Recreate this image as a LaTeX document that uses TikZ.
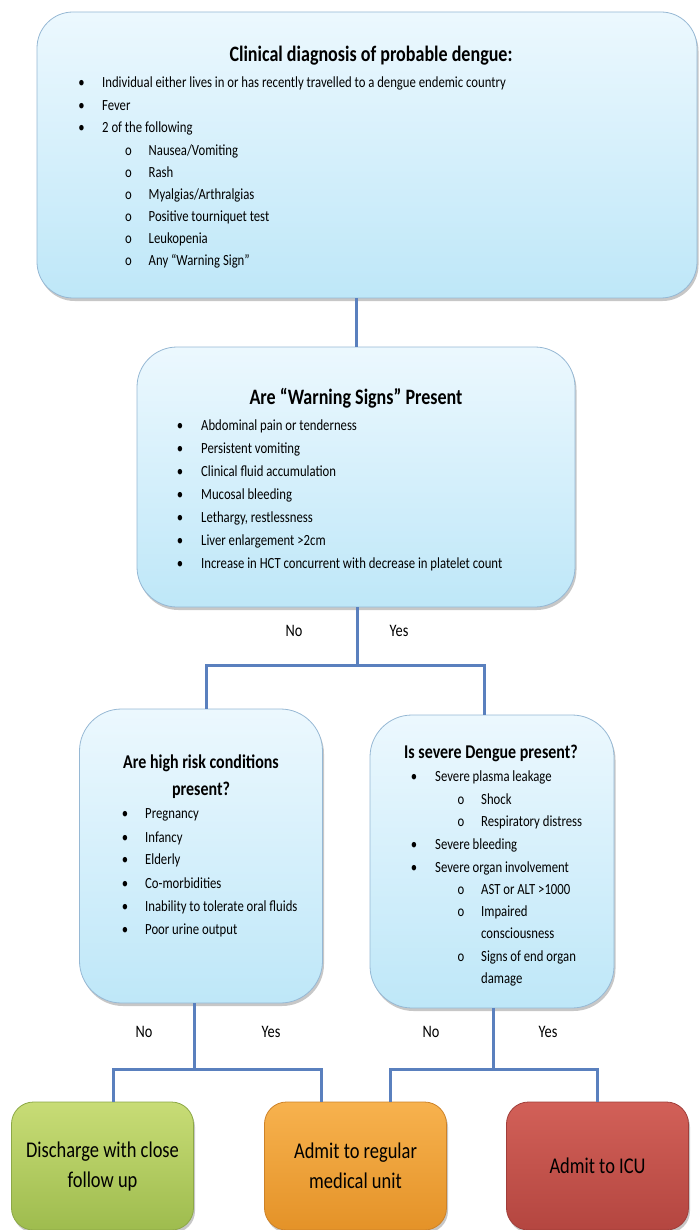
\documentclass[tikz,border=0pt]{standalone}
\usepackage{fontspec}
\setmainfont{Carlito}[FakeStretch=0.82]
\usetikzlibrary{shadows}
\definecolor{connc}{RGB}{90,128,190}
\definecolor{bordc}{RGB}{150,184,212}
\definecolor{btop}{RGB}{236,248,254}
\definecolor{bbot}{RGB}{190,231,248}
\definecolor{gtop}{RGB}{200,220,118}
\definecolor{gbot}{RGB}{158,188,78}
\definecolor{gbrd}{RGB}{140,168,70}
\definecolor{otop}{RGB}{247,178,78}
\definecolor{obot}{RGB}{228,146,40}
\definecolor{obrd}{RGB}{205,130,40}
\definecolor{rtop}{RGB}{210,96,88}
\definecolor{rbot}{RGB}{180,70,64}
\definecolor{rbrd}{RGB}{160,62,58}
\begin{document}
\begin{tikzpicture}[x=1pt,y=-1pt,
  conn/.style={draw=connc, line width=3pt},
  shad/.style={drop shadow={shadow xshift=1.5pt, shadow yshift=-3pt, fill=black, opacity=0.22}},
  bluebox/.style={rectangle, draw=bordc, line width=0.8pt, top color=btop, bottom color=bbot, shad, inner sep=0pt},
  endbox/.style={rectangle, rounded corners=22pt, line width=0.8pt, shad, minimum width=182pt, minimum height=128pt, align=center, font=\fontsize{22.5}{30}\selectfont, text=black},
  ttl/.style={font=\bfseries\fontsize{22}{26}\selectfont, anchor=base, inner sep=0pt},
  sttl/.style={font=\bfseries\fontsize{19.5}{24}\selectfont, anchor=base, inner sep=0pt},
  body/.style={font=\fontsize{15.5}{18}\selectfont, anchor=base west, inner sep=0pt},
  bul/.style={font=\fontsize{15.5}{18}\selectfont, anchor=base, inner sep=0pt},
  lab/.style={font=\fontsize{17.5}{20}\selectfont, anchor=base, inner sep=0pt},
]
\useasboundingbox (0,0) rectangle (699,1230);
% boxes
\node[bluebox, rounded corners=36pt, minimum width=660pt, minimum height=286pt] (b1) at (367,155) {};
\node[bluebox, rounded corners=40pt, minimum width=438pt, minimum height=260pt] (b2) at (356,477) {};
\node[bluebox, rounded corners=42pt, minimum width=243pt, minimum height=294pt] (b3) at (201,856) {};
\node[bluebox, rounded corners=42pt, minimum width=244pt, minimum height=293pt] (b4) at (492,861.5) {};
\node[endbox, draw=gbrd, top color=gtop, bottom color=gbot] (b5) at (102.5,1166) {Discharge with close\\follow up};
\node[endbox, draw=obrd, top color=otop, bottom color=obot] (b6) at (355.5,1166) {Admit to regular\\medical unit};
\node[endbox, draw=rbrd, top color=rtop, bottom color=rbot] (b7) at (597.5,1166) {Admit to ICU};
% junctions
\coordinate (j1) at (357,665);
\coordinate (j2) at (194,1069);
\coordinate (j3) at (493.5,1069);
% connectors
\draw[conn] (b2.north |- b1.south) -- (b2.north);
\draw[conn] (b2.south -| j1) -- (j1);
\draw[conn] ([xshift=5pt]b3.north) |- (j1) -| ([xshift=-8pt]b4.north);
\draw[conn] (b3.south -| j2) -- (j2);
\draw[conn] ([xshift=11pt]b5.north) |- (j2) -| ([xshift=-34.5pt]b6.north);
\draw[conn] (b4.south -| j3) -- (j3);
\draw[conn] ([xshift=35pt]b6.north) |- (j3) -| (b7.north);
% labels
\node[lab] (n1) at (294,636) {No};
\node[lab] (y1) at (399,636) {Yes};
\node[lab] (n2) at (144,1037) {No};
\node[lab] (y2) at (271,1037) {Yes};
\node[lab] (n3) at (431,1037) {No};
\node[lab] (y3) at (548,1037) {Yes};
% box 1 text
\node[ttl] (t1) at (371,62) {Clinical diagnosis of probable dengue:};
\node[bul] (p11) at (81.5,88) {\textbullet};
\node[body] (a11) at (102,88) {Individual either lives in or has recently travelled to a dengue endemic country};
\node[bul] (p12) at (81.5,110.5) {\textbullet};
\node[body] (a12) at (102,110.5) {Fever};
\node[bul] (p13) at (81.5,133) {\textbullet};
\node[body] (a13) at (102,133) {2 of the following};
\node[bul] (p14) at (128.5,155.5) {o};
\node[body] (a14) at (148.5,155.5) {Nausea/Vomiting};
\node[bul] (p15) at (128.5,177.5) {o};
\node[body] (a15) at (148.5,177.5) {Rash};
\node[bul] (p16) at (128.5,199.5) {o};
\node[body] (a16) at (148.5,199.5) {Myalgias/Arthralgias};
\node[bul] (p17) at (128.5,221.5) {o};
\node[body] (a17) at (148.5,221.5) {Positive tourniquet test};
\node[bul] (p18) at (128.5,243.5) {o};
\node[body] (a18) at (148.5,243.5) {Leukopenia};
\node[bul] (p19) at (128.5,265.5) {o};
\node[body] (a19) at (148.5,265.5) {Any “Warning Sign”};
% box 2 text
\node[ttl] (t2) at (356,404.5) {Are “Warning Signs” Present};
\node[bul] (p21) at (180,430.5) {\textbullet};
\node[body] (a21) at (201,430.5) {Abdominal pain or tenderness};
\node[bul] (p22) at (180,453.5) {\textbullet};
\node[body] (a22) at (201,453.5) {Persistent vomiting};
\node[bul] (p23) at (180,476.5) {\textbullet};
\node[body] (a23) at (201,476.5) {Clinical fluid accumulation};
\node[bul] (p24) at (180,499.5) {\textbullet};
\node[body] (a24) at (201,499.5) {Mucosal bleeding};
\node[bul] (p25) at (180,522.5) {\textbullet};
\node[body] (a25) at (201,522.5) {Lethargy, restlessness};
\node[bul] (p26) at (180,545.5) {\textbullet};
\node[body] (a26) at (201,545.5) {Liver enlargement >2cm};
\node[bul] (p27) at (180,568.5) {\textbullet};
\node[body] (a27) at (201,568.5) {Increase in HCT concurrent with decrease in platelet count};
% box 3 text
\node[sttl] (t3a) at (201,768.5) {Are high risk conditions};
\node[sttl] (t3b) at (201,795.5) {present?};
\node[bul] (p31) at (125,818.5) {\textbullet};
\node[body] (a31) at (145,818.5) {Pregnancy};
\node[bul] (p32) at (125,842) {\textbullet};
\node[body] (a32) at (145,842) {Infancy};
\node[bul] (p33) at (125,864.5) {\textbullet};
\node[body] (a33) at (145,864.5) {Elderly};
\node[bul] (p34) at (125,888) {\textbullet};
\node[body] (a34) at (145,888) {Co-morbidities};
\node[bul] (p35) at (125,911) {\textbullet};
\node[body] (a35) at (145,911) {Inability to tolerate oral fluids};
\node[bul] (p36) at (125,934.5) {\textbullet};
\node[body] (a36) at (145,934.5) {Poor urine output};
% box 4 text
\node[sttl] (t4) at (491,758.5) {Is severe Dengue present?};
\node[bul] (p41) at (414,781.5) {\textbullet};
\node[body] (a41) at (435,781.5) {Severe plasma leakage};
\node[bul] (p42) at (461,804.5) {o};
\node[body] (a42) at (481,804.5) {Shock};
\node[bul] (p43) at (461,826.5) {o};
\node[body] (a43) at (481,826.5) {Respiratory distress};
\node[bul] (p44) at (414,849.5) {\textbullet};
\node[body] (a44) at (435,849.5) {Severe bleeding};
\node[bul] (p45) at (414,872.5) {\textbullet};
\node[body] (a45) at (435,872.5) {Severe organ involvement};
\node[bul] (p46) at (461,894.5) {o};
\node[body] (a46) at (481,894.5) {AST or ALT >1000};
\node[bul] (p47) at (461,916.5) {o};
\node[body] (a47) at (481,916.5) {Impaired};
\node[body] (a48) at (481,938.5) {consciousness};
\node[bul] (p49) at (461,961.5) {o};
\node[body] (a49) at (481,961.5) {Signs of end organ};
\node[body] (a50) at (481,983.5) {damage};
\end{tikzpicture}
\end{document}
